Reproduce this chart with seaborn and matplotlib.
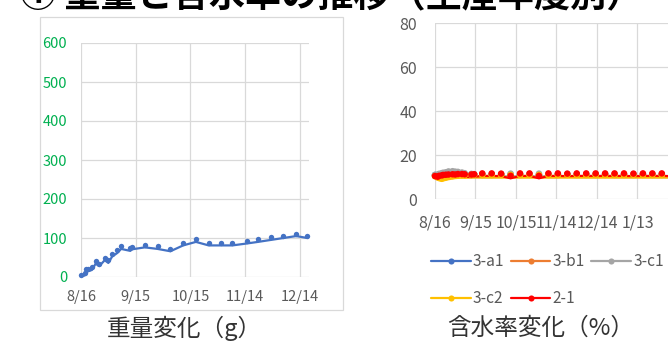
import matplotlib
matplotlib.use("Agg")
import matplotlib.pyplot as plt
import matplotlib.transforms as mtransforms
from matplotlib.lines import Line2D
from matplotlib.patches import Rectangle
import pandas as pd
import seaborn as sns

# ---- weight (g) ----
weight_dates = ["2021-08-16", "2021-08-18", "2021-08-19", "2021-08-20", "2021-08-22",
                "2021-08-24", "2021-08-26", "2021-08-29", "2021-08-31", "2021-09-02",
                "2021-09-05", "2021-09-07", "2021-09-12", "2021-09-13", "2021-09-20",
                "2021-09-27", "2021-10-04", "2021-10-11", "2021-10-18", "2021-10-25",
                "2021-11-01", "2021-11-07", "2021-11-15", "2021-11-21", "2021-11-28",
                "2021-12-05", "2021-12-12", "2021-12-18"]
weight_g = [0, 4, 13, 15, 18, 34, 28, 43, 36, 52, 62, 72, 67, 71,
            76, 72, 66, 81, 90, 81, 81, 81, 86, 90, 95, 100, 105, 100]

# ---- moisture content (%) ----
moisture_dates = ["2021-08-16", "2021-08-18", "2021-08-19", "2021-08-21", "2021-08-22",
                  "2021-08-24", "2021-08-26", "2021-08-29", "2021-08-31", "2021-09-02",
                  "2021-09-05", "2021-09-07", "2021-09-12", "2021-09-14", "2021-09-20",
                  "2021-09-27", "2021-10-04", "2021-10-11", "2021-10-18", "2021-10-25",
                  "2021-11-01", "2021-11-08", "2021-11-15", "2021-11-22", "2021-11-29",
                  "2021-12-06", "2021-12-13", "2021-12-20", "2021-12-27", "2022-01-03",
                  "2022-01-10", "2022-01-17", "2022-01-24", "2022-01-31", "2022-02-07",
                  "2022-02-14", "2022-02-21"]
moisture_3a1 = [9.8, 9.7, 9.9, 10.0, 10.1, 10.2, 10.3, 10.3, 10.2, 10.2, 10.1, 10.1, 10.0, 10.0,
                10.0, 10.0, 10.1, 10.0, 10.0, 10.1, 10.0, 10.0, 10.0, 10.1, 10.0, 10.0, 10.0,
                10.1, 10.0, 10.0, 10.0, 10.1, 10.0, 10.0, 10.0, 10.0, 10.0]
moisture_3b1 = [9.6, 9.5, 9.7, 9.8, 9.9, 10.0, 10.0, 10.1, 10.0, 10.0, 10.0, 9.9, 9.9, 10.0,
                9.9, 9.9, 9.9, 9.9, 9.9, 9.9, 9.9, 9.9, 9.9, 9.9, 9.9, 9.9, 9.9,
                9.9, 9.9, 9.9, 9.9, 9.9, 9.9, 9.9, 9.9, 9.9, 9.9]
moisture_3c1 = [9.8, 10.0, 10.3, 10.6, 10.8, 11.0, 11.4, 11.5, 11.3, 11.2, 10.9, 10.6, 10.3, 10.2,
                10.2, 10.2, 10.2, 10.4, 10.2, 10.2, 10.4, 10.2, 10.2, 10.2, 10.2, 10.2, 10.2,
                10.2, 10.2, 10.2, 10.2, 10.2, 10.2, 10.2, 10.2, 10.2, 10.2]
moisture_3c2 = [9.2, 8.8, 8.5, 8.2, 8.4, 8.7, 9.0, 9.3, 9.5, 9.6, 9.7, 9.7, 9.8, 9.8,
                9.8, 9.8, 9.8, 9.8, 9.8, 9.8, 9.8, 9.8, 9.8, 9.8, 9.8, 9.8, 9.8,
                9.8, 9.8, 9.8, 9.8, 9.8, 9.8, 9.8, 9.8, 9.8, 9.8]
moisture_21 = [9.3, 9.0, 9.4, 9.6, 9.8, 9.9, 10.0, 10.1, 10.0, 10.2, 10.2, 10.1, 10.0, 10.1,
               10.5, 10.5, 10.4, 9.4, 10.5, 10.5, 9.4, 10.5, 10.5, 10.4, 10.5, 10.5, 10.5,
               10.5, 10.5, 10.5, 10.4, 10.5, 10.5, 10.5, 10.4, 10.5, 10.5]
moisture_names = ["3-a1", "3-b1", "3-c1", "3-c2", "2-1"]
moisture_colors = ["#4472C4", "#ED7D31", "#A5A5A5", "#FFC000", "#FF0000"]

tick_dates = ["2021-08-16", "2021-09-15", "2021-10-15", "2021-11-14",
              "2021-12-14", "2022-01-13"]
tick_labels = ["8/16", "9/15", "10/15", "11/14", "12/14", "1/13"]
grid_dates = ["2021-08-16", "2021-09-15", "2021-10-15", "2021-11-14",
              "2021-12-14", "2022-01-13", "2022-02-12"]

weight_yticks = [0, 100, 200, 300, 400, 500, 600]
moisture_yticks = [0, 20, 40, 60, 80]

# ---- data frames ----
df_w = pd.DataFrame({"date": pd.to_datetime(weight_dates), "weight": weight_g})
moisture_values = [moisture_3a1, moisture_3b1, moisture_3c1, moisture_3c2, moisture_21]
df_m = pd.concat(
    [pd.DataFrame({"date": pd.to_datetime(moisture_dates), "moisture": vals, "sample": name})
     for name, vals in zip(moisture_names, moisture_values)],
    ignore_index=True,
)
palette = dict(zip(moisture_names, moisture_colors))

sns.set_theme(style="white")
plt.rcParams["font.family"] = ["Noto Sans CJK JP", "DejaVu Sans"]

W, H = 668, 341
fig = plt.figure(figsize=(W / 100, H / 100), dpi=100)
fig.patch.set_facecolor("white")

GRID = "#D9D9D9"
TICK_GREY = "#595959"

# frame around the weight chart
fig.add_artist(Rectangle((40 / W, 1 - 310 / H), 303 / W, 293 / H,
                         transform=fig.transFigure, fill=False,
                         edgecolor=GRID, linewidth=0.9))

ax_w = fig.add_axes([81 / W, 1 - 277 / H, 228 / W, 234 / H])
ax_m = fig.add_axes([435 / W, 1 - 199 / H, 270 / W, 176 / H])

# markers sit slightly above their line, as in the spreadsheet rendering
marker_shift = mtransforms.ScaledTranslation(0, 1.8 / 72, fig.dpi_scale_trans)

# weight chart
sns.lineplot(data=df_w, x="date", y="weight", ax=ax_w, color="#4472C4",
             linewidth=1.6, sort=False, zorder=3)
sns.scatterplot(data=df_w, x="date", y="weight", ax=ax_w, color="#4472C4",
                s=15, linewidth=0, zorder=4)
pts = ax_w.collections[-1]
pts.set_offset_transform(ax_w.transData + marker_shift)
pts.set_clip_on(False)

ax_w.set_xlim(pd.Timestamp("2021-08-16"), pd.Timestamp("2021-12-19"))
ax_w.set_ylim(0, 600)
ax_w.set_yticks(weight_yticks)
ax_w.set_xticks(pd.to_datetime(tick_dates[:5]))
ax_w.set_xticklabels(tick_labels[:5])
ax_w.tick_params(axis="y", colors="#00B050", labelsize=10.5, length=0, pad=10)
ax_w.tick_params(axis="x", colors=TICK_GREY, labelsize=10.5, length=0, pad=9)

# moisture chart
sns.lineplot(data=df_m, x="date", y="moisture", hue="sample", hue_order=moisture_names,
             palette=palette, ax=ax_m, linewidth=1.6, sort=False, legend=False, zorder=3)
sns.scatterplot(data=df_m, x="date", y="moisture", hue="sample", hue_order=moisture_names,
                palette=palette, ax=ax_m, s=22, linewidth=0, legend=False, zorder=4)
pts = ax_m.collections[-1]
pts.set_offset_transform(ax_m.transData + marker_shift)
pts.set_clip_on(False)

ax_m.set_xlim(pd.Timestamp("2021-08-16"), pd.Timestamp("2022-03-04"))
ax_m.set_ylim(0, 80)
ax_m.set_yticks(moisture_yticks)
ax_m.set_xticks(pd.to_datetime(tick_dates))
ax_m.set_xticklabels(tick_labels)
ax_m.set_xticks(pd.to_datetime(grid_dates), minor=True)
ax_m.tick_params(axis="both", colors=TICK_GREY, labelsize=11.5, length=0)
ax_m.tick_params(axis="y", pad=13)
ax_m.tick_params(axis="x", pad=11)
ax_m.tick_params(axis="x", which="minor", length=0)
ax_m.grid(True, which="minor", axis="x", color=GRID, linewidth=0.9)

for ax in (ax_w, ax_m):
    ax.set_xlabel("")
    ax.set_ylabel("")
    ax.set_facecolor("white")
    ax.grid(True, which="major", color=GRID, linewidth=0.9)
    ax.set_axisbelow(True)
    for sp in ax.spines.values():
        sp.set_visible(False)

# legend for the moisture series, filled row by row
order = [0, 3, 1, 4, 2]
handles = [Line2D([], [], color=moisture_colors[i], linewidth=1.6, marker="o",
                  markersize=4.4, markeredgewidth=0) for i in order]
labels = [moisture_names[i] for i in order]
fig.legend(handles, labels, ncol=3, loc="upper left",
           bbox_to_anchor=(431 / W, 1 - 253 / H), frameon=False,
           fontsize=11.2, labelcolor=TICK_GREY, handlelength=2.55,
           handletextpad=0.15, columnspacing=0.4, labelspacing=1.3,
           borderpad=0, borderaxespad=0)

# chart captions
fig.text(184 / W, 1 - 328 / H, "重量変化（g）", ha="center", va="center",
         fontsize=17, color="#333333")
fig.text(541 / W, 1 - 328 / H, "含水率変化（%）", ha="center", va="center",
         fontsize=17, color="#333333")

# section heading
fig.text(20 / W, 1 - 6 / H, "① 重量と含水率の推移（生産年度別）", ha="left",
         va="baseline", fontsize=26, fontweight="bold", color="black")

fig.savefig("out.png", dpi=100)
